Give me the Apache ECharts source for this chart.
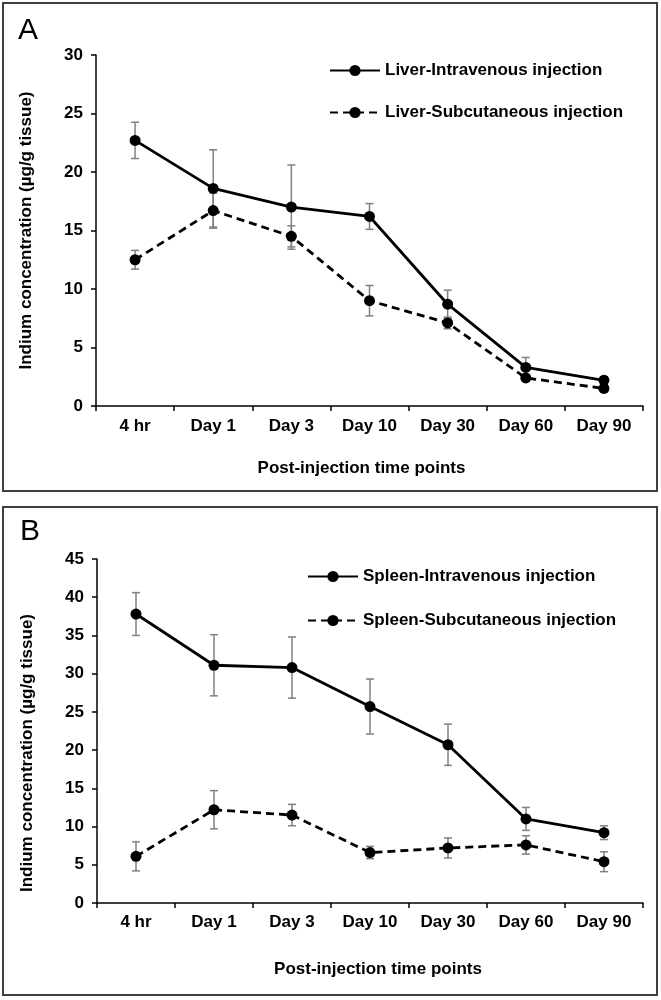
<!DOCTYPE html>
<html>
<head>
<meta charset="utf-8">
<script src="https://cdn.jsdelivr.net/npm/echarts@6/dist/echarts.min.js"></script>
<style>
html,body{margin:0;padding:0;background:#fff;}
#chart{width:661px;height:1000px;}
</style>
</head>
<body>
<div id="chart"></div>
<script>
const categories = ['4 hr', 'Day 1', 'Day 3', 'Day 10', 'Day 30', 'Day 60', 'Day 90'];
const liverIV = [22.7, 18.6, 17.0, 16.2, 8.7, 3.3, 2.2];
const liverIVErr = [1.55, 3.3, 3.6, 1.1, 1.2, 0.85, 0.3];
const liverSC = [12.5, 16.7, 14.5, 9.0, 7.1, 2.4, 1.5];
const liverSCErr = [0.8, 1.5, 0.9, 1.3, 0.5, 0.3, 0.3];
const spleenIV = [37.8, 31.1, 30.8, 25.7, 20.7, 11.0, 9.2];
const spleenIVErr = [2.8, 4.0, 4.0, 3.6, 2.7, 1.5, 0.9];
const spleenSC = [6.1, 12.2, 11.5, 6.6, 7.2, 7.6, 5.4];
const spleenSCErr = [1.9, 2.5, 1.4, 0.8, 1.3, 1.2, 1.3];
const yTicksA = {min: 0, max: 30, interval: 5};
const yTicksB = {min: 0, max: 45, interval: 5};
const names = {
  livIV: 'Liver-Intravenous injection',
  livSC: 'Liver-Subcutaneous injection',
  splIV: 'Spleen-Intravenous injection',
  splSC: 'Spleen-Subcutaneous injection'
};
const xTitle = 'Post-injection time points';
const yTitle = 'Indium concentration (µg/g tissue)';

const FONT = '"Liberation Sans", Arial, Helvetica, sans-serif';
const chart = echarts.init(document.getElementById('chart'), null, {renderer: 'canvas'});

function errData(vals, errs) {
  return vals.map((v, i) => [i, v - errs[i], v + errs[i]]);
}
function errSeries(idx, vals, errs) {
  return {
    type: 'custom',
    xAxisIndex: idx, yAxisIndex: idx,
    z: 1,
    silent: true,
    data: errData(vals, errs),
    renderItem: function (params, api) {
      const lo = api.coord([api.value(0), api.value(1)]);
      const hi = api.coord([api.value(0), api.value(2)]);
      const x = lo[0], w = 4;
      const st = {stroke: '#808080', lineWidth: 1.5};
      return {
        type: 'group',
        children: [
          {type: 'line', shape: {x1: x, y1: lo[1], x2: x, y2: hi[1]}, style: st},
          {type: 'line', shape: {x1: x - w, y1: lo[1], x2: x + w, y2: lo[1]}, style: st},
          {type: 'line', shape: {x1: x - w, y1: hi[1], x2: x + w, y2: hi[1]}, style: st}
        ]
      };
    }
  };
}
function lineSeries(idx, name, vals, dashed) {
  return {
    type: 'line', name: name,
    xAxisIndex: idx, yAxisIndex: idx,
    z: 3,
    data: vals,
    symbol: 'circle', symbolSize: 11,
    itemStyle: {color: '#000'},
    lineStyle: {color: '#000', width: 2.8, type: dashed ? [8, 5] : 'solid'}
  };
}
function xAxisDef(idx, labelMargin, nameGap, namePad) {
  return {
    type: 'category', gridIndex: idx, data: categories, boundaryGap: true,
    axisLine: {lineStyle: {color: '#000', width: 1.5}},
    axisTick: {show: true, inside: false, length: 5, interval: 0, lineStyle: {color: '#000', width: 1.5}},
    axisLabel: {color: '#000', fontSize: 17, fontWeight: 'bold', fontFamily: FONT, margin: labelMargin, interval: 0},
    name: xTitle, nameLocation: 'middle', nameGap: nameGap,
    nameTextStyle: {color: '#000', fontSize: 17, fontWeight: 'bold', fontFamily: FONT, padding: namePad}
  };
}
function yAxisDef(idx, t, namePad) {
  return {
    type: 'value', gridIndex: idx, min: t.min, max: t.max, interval: t.interval,
    splitLine: {show: false},
    axisLine: {show: true, lineStyle: {color: '#000', width: 1.5}},
    axisTick: {show: true, length: 5, lineStyle: {color: '#000', width: 1.5}},
    axisLabel: {color: '#000', fontSize: 17, fontWeight: 'bold', fontFamily: FONT, margin: 13},
    name: yTitle, nameLocation: 'middle', nameGap: 61, nameRotate: 90,
    nameTextStyle: {color: '#000', fontSize: 17, fontWeight: 'bold', fontFamily: FONT, padding: namePad}
  };
}
function legendDef(top, left, gap, data) {
  return {
    orient: 'vertical', left: left, top: top, data: data, padding: 0,
    itemWidth: 50, itemHeight: 14, itemGap: gap,
    textStyle: {color: '#000', fontSize: 17, fontWeight: 'bold', fontFamily: FONT},
    selectedMode: false
  };
}

const option = {
  backgroundColor: '#fff',
  animation: false,
  grid: [
    {left: 96, right: 18, top: 55, height: 351},
    {left: 97, right: 18, top: 559, height: 344}
  ],
  xAxis: [xAxisDef(0, 12, 54, [0, 16, 0, 0]), xAxisDef(1, 11, 58, [0, 0, 0, 16])],
  yAxis: [yAxisDef(0, yTicksA, [0, 0, 0, 0]), yAxisDef(1, yTicksB, [0, 44, 0, 0])],
  legend: [
    legendDef(62, 329, 25, [names.livIV, names.livSC]),
    legendDef(568, 307, 27, [names.splIV, names.splSC])
  ],
  graphic: [
    {type: 'rect', shape: {x: 3, y: 3, width: 654, height: 488}, style: {fill: 'none', stroke: '#404040', lineWidth: 2}, silent: true},
    {type: 'rect', shape: {x: 3, y: 507, width: 654, height: 488}, style: {fill: 'none', stroke: '#404040', lineWidth: 2}, silent: true},
    {type: 'text', left: 18, top: 16, style: {text: 'A', fontSize: 30, fontFamily: FONT, fill: '#000'}},
    {type: 'text', left: 20, top: 517, style: {text: 'B', fontSize: 30, fontFamily: FONT, fill: '#000'}}
  ],
  series: [
    errSeries(0, liverIV, liverIVErr),
    errSeries(0, liverSC, liverSCErr),
    lineSeries(0, names.livIV, liverIV, false),
    lineSeries(0, names.livSC, liverSC, true),
    errSeries(1, spleenIV, spleenIVErr),
    errSeries(1, spleenSC, spleenSCErr),
    lineSeries(1, names.splIV, spleenIV, false),
    lineSeries(1, names.splSC, spleenSC, true)
  ]
};
chart.setOption(option);
</script>
</body>
</html>
